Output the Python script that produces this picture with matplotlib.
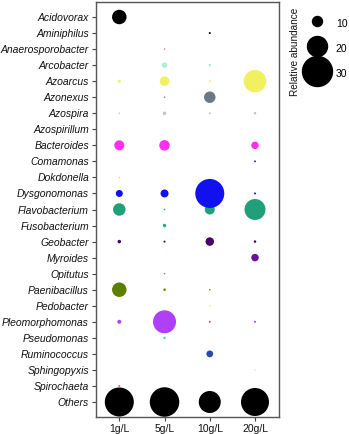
import matplotlib
matplotlib.use("Agg")
import matplotlib.pyplot as plt
from matplotlib.lines import Line2D
import numpy as np

plt.rcParams['font.family'] = ['Liberation Sans', 'DejaVu Sans']

genera = ["Acidovorax", "Aminiphilus", "Anaerosporobacter", "Arcobacter", "Azoarcus",
          "Azonexus", "Azospira", "Azospirillum", "Bacteroides", "Comamonas",
          "Dokdonella", "Dysgonomonas", "Flavobacterium", "Fusobacterium", "Geobacter",
          "Myroides", "Opitutus", "Paenibacillus", "Pedobacter", "Pleomorphomonas",
          "Pseudomonas", "Ruminococcus", "Sphingopyxis", "Spirochaeta", "Others"]
conditions = ["1g/L", "5g/L", "10g/L", "20g/L"]

g1 = [14.5, 0, 0, 0, 3, 0, 1.5, 0, 10, 0, 1, 7, 12.5, 0, 3.5, 0, 0, 14.5, 0, 4, 0, 0, 0, 2, 29]
g5 = [0, 0, 1.5, 5.5, 9.5, 1.5, 3.5, 0, 10.5, 0, 0, 8, 1.5, 3.5, 2, 0, 1.5, 2.5, 0, 23, 2.5, 0, 0, 0, 29.5]
g10 = [0, 2, 0, 2.5, 2, 11.5, 2, 0, 0, 0, 0, 29, 10, 0, 8.5, 0, 0, 1.5, 1.5, 2, 0, 6.8, 0, 0, 22]
g20 = [0, 0, 0, 0, 22.5, 0, 2.5, 0, 7.5, 2, 0, 2, 21, 0, 2.5, 7.5, 0, 0, 0, 2, 0, 0, 1.5, 0, 28]

colors = ["#000000", "#000000", "#e060c0", "#a8f0d8", "#f0f060",
          "#6b7886", "#b8c8d0", "#cccccc", "#ff30f0", "#5030a0",
          "#f0a040", "#1010f0", "#20a078", "#20b070", "#4a0068",
          "#6a10a0", "#a070c0", "#5a8000", "#f0f080", "#b040f8",
          "#40e0a0", "#2a48b0", "#b0f0e0", "#e050c0", "#000000"]

legend_values = [10, 20, 30]

PX = 72.0 / 100.0  # points per pixel


def msize(v):
    return (np.asarray(v, dtype=float) * PX) ** 2


fig = plt.figure(figsize=(3.49, 4.34), dpi=100)
ax = fig.add_axes([96 / 349, 1 - 417 / 434, (279.3 - 96) / 349, (417 - 2) / 434])

series = [g1, g5, g10, g20]
ypos = np.arange(len(genera))
for i in reversed(range(len(genera))):
    for j, ser in enumerate(series):
        v = ser[i]
        if v <= 0:
            continue
        ax.scatter([j], [i], s=msize(v), c=colors[i], edgecolors='none', zorder=3)

ax.set_xlim(-0.515, 3.537)
ax.set_ylim(24.935, -0.935)
ax.set_xticks(range(len(conditions)))
ax.set_xticklabels(conditions, fontsize=7.5)
ax.set_yticks(ypos)
ax.set_yticklabels(genera, fontsize=7.5, style='italic')
ax.tick_params(axis='both', length=3, width=0.8, color='#444444', pad=2, labelcolor='#111111')
for sp in ax.spines.values():
    sp.set_color('#555555')
    sp.set_linewidth(1.0)

handles = [Line2D([], [], marker='o', linestyle='none', color='black',
                  markersize=v * PX, label=str(v)) for v in legend_values]
leg = fig.legend(handles=handles, loc='upper left', bbox_to_anchor=(292.0 / 349, 1 - 6 / 434),
                 frameon=False, fontsize=7.5, handlelength=3.0, handletextpad=0.3,
                 handleheight=2.0, labelspacing=0.86, borderpad=0.4)
fig.text(295 / 349, 1 - 51.5 / 434, "Relative abundance", rotation=90, ha='center', va='center',
         fontsize=7.2, color='#111111')

fig.savefig("out.png", dpi=100)
